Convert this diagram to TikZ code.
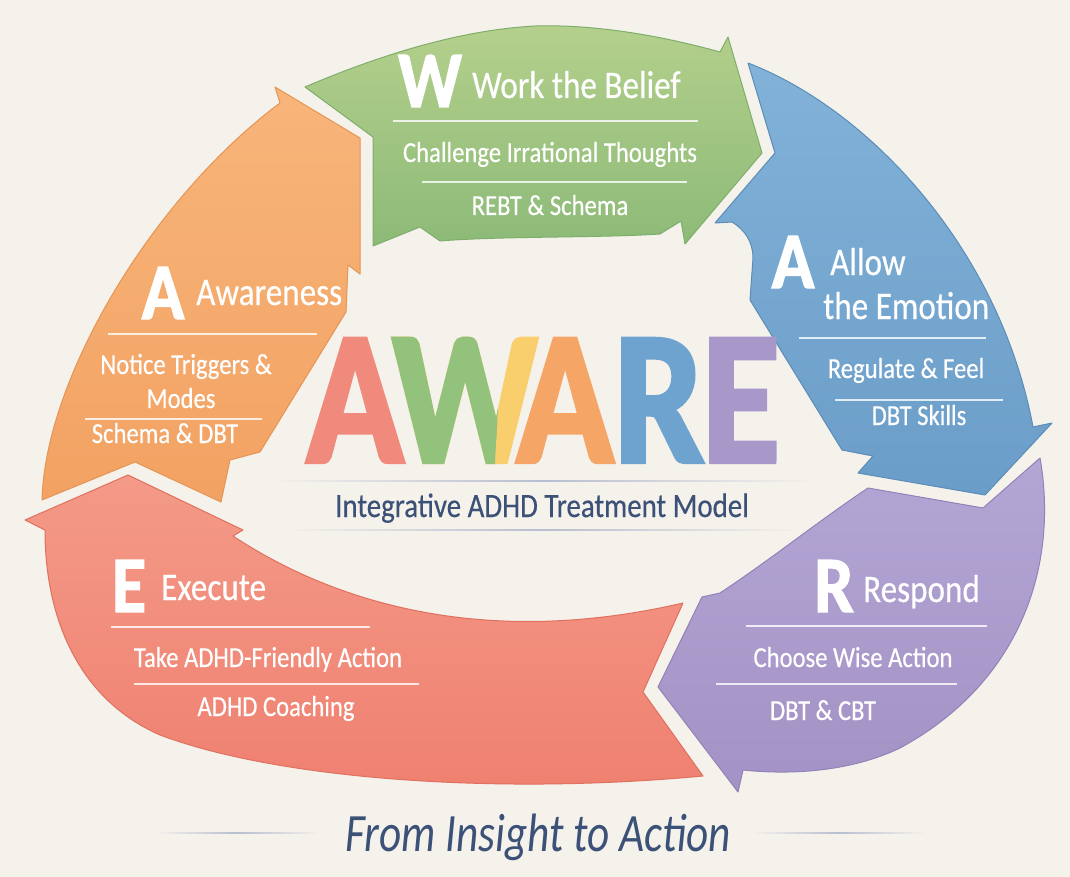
\documentclass[tikz,border=0pt]{standalone}
\usepackage{fontspec}
\setmainfont{Carlito}[FakeStretch=0.85, UprightFeatures={FakeBold=0.4}]
\newfontfamily\heavyfont{Carlito}[FakeStretch=0.88, BoldFeatures={FakeBold=1.6}]
\newfontfamily\awarefont{Carlito}[FakeStretch=0.84, BoldFeatures={FakeBold=2.2}]
\newfontfamily\mottofont{Carlito}[FakeStretch=0.8]
\definecolor{paper}{HTML}{F5F1EB}
\definecolor{grnA}{HTML}{B4D08C}
\definecolor{grnB}{HTML}{8DBA78}
\definecolor{grnE}{HTML}{7FAE6C}
\definecolor{oraA}{HTML}{F8B57A}
\definecolor{oraB}{HTML}{F2A263}
\definecolor{oraE}{HTML}{E59555}
\definecolor{bluA}{HTML}{82B2D8}
\definecolor{bluB}{HTML}{6A9DC8}
\definecolor{bluE}{HTML}{5B8DB8}
\definecolor{purA}{HTML}{B3A6D4}
\definecolor{purB}{HTML}{A392C5}
\definecolor{purE}{HTML}{9282B8}
\definecolor{redA}{HTML}{F49A88}
\definecolor{redB}{HTML}{EF8070}
\definecolor{redE}{HTML}{E0705F}
\definecolor{awRed}{HTML}{F08A7C}
\definecolor{awGreen}{HTML}{93C27D}
\definecolor{awYellow}{HTML}{F9CF6E}
\definecolor{awOrange}{HTML}{F5A566}
\definecolor{awBlue}{HTML}{6FA3CF}
\definecolor{awPurple}{HTML}{A898CA}
\definecolor{navy}{HTML}{3B5178}
\definecolor{faint}{HTML}{B8BED0}

\begin{document}
\begin{tikzpicture}[x=1pt, y=-1pt,
          headtext/.style={text=white, anchor=base west, inner sep=0pt, font=\fontsize{39}{43}\selectfont},
          subtext/.style={text=white, anchor=base, inner sep=0pt, font=\fontsize{29}{32}\selectfont},
          initial/.style={text=white, anchor=base, inner sep=0pt, font=\heavyfont\fontsize{80}{84}\selectfont\bfseries},
          bigletter/.style={anchor=base, inner sep=0pt, font=\awarefont\fontsize{190}{190}\selectfont\bfseries},
          sepline/.style={white, opacity=0.8, line width=1.3pt},
          fadeline/.style={left color=paper, right color=paper, middle color=faint},
          greenarr/.style={top color=grnA, bottom color=grnB, draw=grnE, line width=1pt, line join=round},
          orangearr/.style={top color=oraA, bottom color=oraB, draw=oraE, line width=1pt, line join=round},
          bluearr/.style={top color=bluA, bottom color=bluB, draw=bluE, line width=1pt, line join=round},
          purplearr/.style={top color=purA, bottom color=purB, draw=purE, line width=1pt, line join=round},
          redarr/.style={top color=redA, bottom color=redB, draw=redE, line width=1pt, line join=round}]
          \fill[paper] (0,0) rectangle (1070,877);
          \useasboundingbox (0,0) rectangle (1070,877);

          \path[greenarr] (305,87) .. controls (380,55) and (460,30) .. (535,26) .. controls (600,24) and (670,38) .. (720,52) -- (728,37) -- (762,153) -- (685,244) -- (681,221) -- (660,234) .. controls (600,238) and (500,236) .. (440,241) -- (420,227) -- (373,246) -- (373,137) -- cycle;
          \path[orangearr] (42,500) .. controls (45,380) and (150,200) .. (280,103) -- (275,87) -- (360,138) -- (360,274) -- (348,265) -- (346,312) -- (260,452) -- (230,460) -- (221,502) -- (135,462) -- cycle;
          \path[bluearr] (748,63) .. controls (870,110) and (1000,250) .. (1033,427) -- (1052,423) -- (985,495) -- (858,473) -- (873,456) -- (842,450) -- (750,300) -- (753,258) .. controls (753,242) and (745,230) .. (732,222) -- (715,223) -- (775,153) -- cycle;
          \path[purplearr] (868,488) -- (983,508) -- (1040,458) .. controls (1058,560) and (1025,680) .. (900,748) .. controls (850,772) and (790,775) .. (743,770) -- (738,792) -- (658,687) -- (702,597) -- (720,593) .. controls (770,560) and (820,520) .. cycle;
          \path[redarr] (25,520) -- (128,475) -- (243,530) -- (233,536) .. controls (330,600) and (480,650) .. (683,603) -- (643,692) -- (703,776) .. controls (500,795) and (280,780) .. (160,735) .. controls (80,700) and (45,620) .. (45,530) -- cycle;

          \draw (430,107) node[initial] (iniW) {W};
          \draw (472,98) node[headtext] (work) {Work the Belief};
          \draw[sepline] (393,121) -- (698,121);
          \draw (550,162) node[subtext] (challenge) {Challenge Irrational Thoughts};
          \draw[sepline] (422,182) -- (687,182);
          \draw (550,215) node[subtext] (rebt) {REBT \& Schema};

          \draw (163,319) node[initial] (iniA) {A};
          \draw (196,305) node[headtext] (awareness) {Awareness};
          \draw[sepline] (108,334) -- (317,334);
          \draw (186,374) node[subtext] (notice) {Notice Triggers \&};
          \draw (181,408) node[subtext] (modes) {Modes};
          \draw[sepline] (85,419) -- (262,419);
          \draw (165,443) node[subtext] (schemadbt) {Schema \& DBT};

          \draw (793,288) node[initial] (iniAllow) {A};
          \draw (830,275) node[headtext] (allow) {Allow};
          \draw (823,319) node[headtext] (emotion) {the Emotion};
          \draw[sepline] (799,338) -- (986,338);
          \draw (906,378) node[subtext] (regulate) {Regulate \& Feel};
          \draw[sepline] (835,400) -- (1003,400);
          \draw (919,425) node[subtext] (dbtskills) {DBT Skills};

          \draw (834,612) node[initial] (iniR) {R};
          \draw (863,602) node[headtext] (respond) {Respond};
          \draw[sepline] (746,626) -- (987,626);
          \draw (853,667) node[subtext] (choose) {Choose Wise Action};
          \draw[sepline] (716,684) -- (957,684);
          \draw (823,720) node[subtext] (dbtcbt) {DBT \& CBT};

          \draw (129,612) node[initial] (iniE) {E};
          \draw (161,600) node[headtext] (execute) {Execute};
          \draw[sepline] (111,627) -- (370,627);
          \draw (268,667) node[subtext] (take) {Take ADHD-Friendly Action};
          \draw[sepline] (134,684) -- (419,684);
          \draw (276,716) node[subtext] (coaching) {ADHD Coaching};

          \draw (355,462) node[bigletter, text=awRed] (awA) {A};
          \draw (465,462) node[bigletter, text=awYellow] (awWy) {W};
          \begin{scope}
            \clip (380,300) -- (504,300) -- (494,480) -- (380,480) -- cycle;
            \draw (465,462) node[bigletter, text=awGreen] (awW) {W};
          \end{scope}
          \draw (565,462) node[bigletter, text=awOrange] (awAA) {A};
          \draw (659,462) node[bigletter, text=awBlue] (awR) {R};
          \draw (741,462) node[bigletter, text=awPurple] (awE) {E};

          \shade[fadeline] (270,480.2) rectangle (815,481.8);
          \draw (542,517) node[anchor=base, inner sep=0pt, text=navy, font=\fontsize{34}{38}\selectfont] (model) {Integrative ADHD Treatment Model};
          \shade[fadeline] (285,529.2) rectangle (798,530.8);

          \shade[fadeline] (155,832.2) rectangle (320,833.8);
          \draw (538,851) node[anchor=base, inner sep=0pt, text=navy, font=\mottofont\fontsize{54}{58}\selectfont\itshape] (motto) {From Insight to Action};
          \shade[fadeline] (752,832.2) rectangle (925,833.8);
\end{tikzpicture}
\end{document}
